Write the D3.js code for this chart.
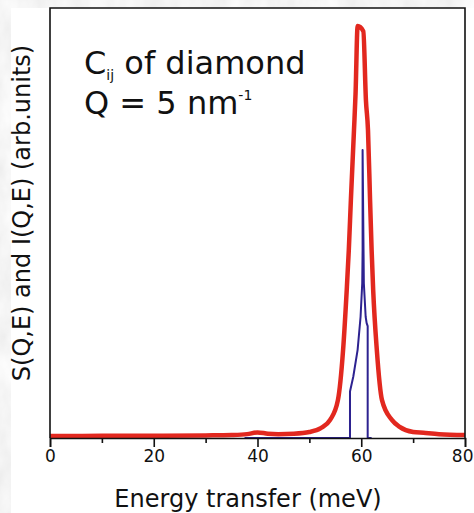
<!DOCTYPE html>
<html>
<head>
<meta charset="utf-8">
<script src="https://cdn.jsdelivr.net/npm/d3@7"></script>
<style>
  html, body { margin: 0; padding: 0; background: #ffffff; }
  svg { display: block; }
  text { font-family: "DejaVu Sans", Verdana, sans-serif; fill: #111; }
</style>
</head>
<body>
<svg id="chart" width="474" height="513"></svg>
<script>
// S(Q,E): calculated dynamic structure factor (energy in meV, arbitrary units)
const sEnergy = [0, 10, 20, 30, 35, 38, 40, 42, 44, 47, 50, 52.2, 54, 55.5, 56.5, 57.2, 57.6, 58.0, 58.6, 58.9, 59.3, 60.4, 60.9, 61.3, 61.7, 62.0, 62.3, 63.0, 64.0, 65.9, 67.4, 70, 72, 75, 80];
const sValue  = [0.45, 0.5, 0.5, 0.6, 0.7, 0.9, 1.3, 1.0, 0.9, 1.0, 1.4, 2.3, 4.2, 8.8, 20.5, 34.4, 43.7, 55.3, 71.6, 80, 95.8, 94.6, 78.6, 71.6, 55.3, 43.7, 34.4, 20.5, 8.8, 4.2, 2.6, 1.4, 1.2, 0.9, 0.7];

// I(Q,E): spectrum from the elastic constants C_ij
const iEnergy = [37.5, 57.83, 57.83, 58.47, 59.3, 59.87, 60.19, 60.26, 60.26, 60.5, 60.85, 61.04, 61.24, 61.24, 62.0];
const iValue  = [0, 0, 10.8, 14.3, 20.5, 28.2, 36.0, 43.7, 67.0, 36.0, 28.2, 26.7, 26.0, 0, 0];

const majorTicks = [0, 20, 40, 60, 80];
const minorTicks = [10, 30, 50, 70];

const svg = d3.select("#chart");
const W = 474, H = 513;
const plot = { left: 50, right: 465, top: 8, bottom: 438 };

// marbled grey page border
const defs = svg.append("defs");
const f = defs.append("filter").attr("id", "marble")
  .attr("x", 0).attr("y", 0).attr("width", "100%").attr("height", "100%");
f.append("feTurbulence").attr("type", "fractalNoise")
  .attr("baseFrequency", "0.035 0.02").attr("numOctaves", 4).attr("seed", 7);
f.append("feColorMatrix").attr("type", "matrix")
  .attr("values", "0.25 0 0 0 0.78  0.25 0 0 0 0.78  0.25 0 0 0 0.78  0 0 0 0 1");
svg.append("rect").attr("width", W).attr("height", H).attr("filter", "url(#marble)");
svg.append("rect").attr("x", 11).attr("y", 8).attr("width", W - 11).attr("height", H - 8).attr("fill", "#fff");

const x = d3.scaleLinear().domain([0, 80]).range([plot.left, plot.right]);
const y = d3.scaleLinear().domain([0, 100]).range([plot.bottom, plot.top]);

// curves
const sLine = d3.line().x((d, i) => x(sEnergy[i])).y((d, i) => y(sValue[i])).curve(d3.curveMonotoneX);
const iLine = d3.line().x((d, i) => x(iEnergy[i])).y((d, i) => y(iValue[i]));

svg.append("path").datum(iEnergy).attr("d", iLine)
  .attr("fill", "none").attr("stroke", "#2d2290").attr("stroke-width", 2)
  .attr("stroke-linejoin", "round");

svg.append("path").datum(sEnergy).attr("d", sLine)
  .attr("fill", "none").attr("stroke", "#e2281f").attr("stroke-width", 4.5)
  .attr("stroke-linejoin", "round");

// frame
svg.append("path")
  .attr("d", `M${plot.left},${plot.bottom}V${plot.top}H${plot.right}V${plot.bottom}`)
  .attr("fill", "none").attr("stroke", "#111").attr("stroke-width", 1.6);

// x axis
const ax = d3.axisBottom(x).tickValues(majorTicks).tickSize(9).tickPadding(3).tickFormat(d3.format("d"));
const g = svg.append("g").attr("transform", `translate(0,${plot.bottom})`).call(ax);
g.select(".domain").attr("stroke", "#111").attr("stroke-width", 1.6);
g.selectAll(".tick line").attr("stroke", "#111").attr("stroke-width", 1.6);
g.selectAll(".tick text").attr("font-size", 17).attr("font-family", "DejaVu Sans").attr("fill", "#111");
// keep the last label inside the page edge
g.selectAll(".tick text").filter(d => d === 80).attr("text-anchor", "end").attr("x", 8);
const axm = d3.axisBottom(x).tickValues(minorTicks).tickSize(5).tickFormat("");
const gm = svg.append("g").attr("transform", `translate(0,${plot.bottom})`).call(axm);
gm.select(".domain").remove();
gm.selectAll(".tick line").attr("stroke", "#111").attr("stroke-width", 1.6);

// axis titles
svg.append("text").attr("x", 248).attr("y", 507).attr("text-anchor", "middle")
  .attr("font-size", 24).text("Energy transfer (meV)");
svg.append("text").attr("transform", "translate(30,213) rotate(-90)")
  .attr("text-anchor", "middle").attr("font-size", 24)
  .text("S(Q,E) and I(Q,E) (arb.units)");

// annotation
const t1 = svg.append("text").attr("x", 84).attr("y", 74).attr("font-size", 32);
t1.append("tspan").text("C");
t1.append("tspan").attr("font-size", 14).attr("dy", 6).text("ij");
t1.append("tspan").attr("dy", -6).text(" of diamond");
const t2 = svg.append("text").attr("x", 84).attr("y", 114).attr("font-size", 32);
t2.append("tspan").text("Q = 5 nm");
t2.append("tspan").attr("font-size", 14).attr("dy", -14).text("-1");
</script>
</body>
</html>
